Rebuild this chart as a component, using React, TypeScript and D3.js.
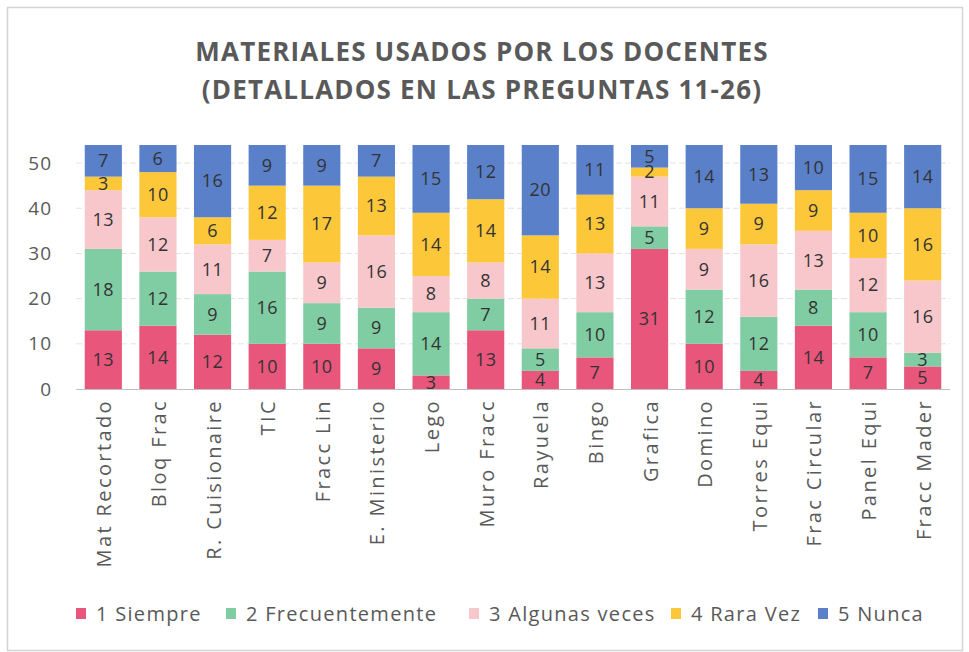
import React from "react";
import * as d3 from "d3";

const categories = [
  "Mat Recortado", "Bloq Frac", "R. Cuisionaire", "TIC", "Fracc Lin", "E. Ministerio",
  "Lego", "Muro Fracc", "Rayuela", "Bingo", "Grafica", "Domino", "Torres Equi",
  "Frac Circular", "Panel Equi", "Fracc Mader",
];
const siempre = [13, 14, 12, 10, 10, 9, 3, 13, 4, 7, 31, 10, 4, 14, 7, 5];
const frecuentemente = [18, 12, 9, 16, 9, 9, 14, 7, 5, 10, 5, 12, 12, 8, 10, 3];
const algunasVeces = [13, 12, 11, 7, 9, 16, 8, 8, 11, 13, 11, 9, 16, 13, 12, 16];
const raraVez = [3, 10, 6, 12, 17, 13, 14, 14, 14, 13, 2, 9, 9, 9, 10, 16];
const nunca = [7, 6, 16, 9, 9, 7, 15, 12, 20, 11, 5, 14, 13, 10, 15, 14];
const seriesNames = ["1 Siempre", "2 Frecuentemente", "3 Algunas veces", "4 Rara Vez", "5 Nunca"];
const seriesColors = ["#E8567B", "#80CDA4", "#F7C7CB", "#FDC73A", "#5A80CA"];
const yTicks = [0, 10, 20, 30, 40, 50];
const titleLines = ["MATERIALES USADOS POR LOS DOCENTES", "(DETALLADOS EN LAS PREGUNTAS 11-26)"];

const W = 969;
const H = 652;
const FONT = "'Open Sans', 'Liberation Sans', sans-serif";

export default function App() {
  const series = [siempre, frecuentemente, algunasVeces, raraVez, nunca];
  const rows = categories.map((c, i) => {
    const r: any = { cat: c };
    seriesNames.forEach((s, k) => (r[s] = series[k][i]));
    return r;
  });
  const stacked = d3.stack<any>().keys(seriesNames)(rows);

  const x = d3.scaleBand().domain(categories).range([76, 950]).paddingInner(0.32).paddingOuter(0.16);
  const y = d3.scaleLinear().domain([0, 54]).range([389, 145]);

  const legendX = [76, 226, 469, 671, 818];

  return (
    <svg width={W} height={H} style={{ position: "absolute", left: 0, top: 0, background: "#fff" }}>
      <rect x={7.5} y={7.5} width={955} height={643} fill="#fff" stroke="#d4d4d4" strokeWidth={1.5} />
      {titleLines.map((t, i) => (
        <text key={i} x={482} y={61 + i * 38} textAnchor="middle" fontFamily={FONT} fontWeight="bold"
          fontSize={26} fill="#595959" letterSpacing={1.2}>{t}</text>
      ))}
      {yTicks.map((t) => (
        <g key={t}>
          {t > 0 && <line x1={76} x2={950} y1={y(t)} y2={y(t)} stroke="#e3e3e3" strokeWidth={1} strokeDasharray="6 3" />}
          <text x={52} y={y(t)} dy="0.35em" textAnchor="end" fontFamily={FONT} fontSize={19} letterSpacing={1} fill="#595959">{t}</text>
        </g>
      ))}
      {stacked.map((layer, k) => (
        <g key={k}>
          {layer.map((d, i) => (
            <rect key={i} x={x(categories[i])} y={y(d[1])} width={x.bandwidth()} height={y(d[0]) - y(d[1])}
              fill={seriesColors[k]} />
          ))}
        </g>
      ))}
      <line x1={76} x2={950} y1={389.5} y2={389.5} stroke="#bfbfbf" strokeWidth={1} />
      {stacked.map((layer, k) => (
        <g key={"l" + k}>
          {layer.map((d, i) => (
            <text key={i} x={(x(categories[i]) as number) + x.bandwidth() / 2} y={(y(d[0]) + y(d[1])) / 2}
              dy="0.35em" textAnchor="middle" fontFamily={FONT} fontSize={18} letterSpacing={0.5} fill="#333">
              {d[1] - d[0]}
            </text>
          ))}
        </g>
      ))}
      {categories.map((c) => (
        <text key={c} transform={`translate(${(x(c) as number) + x.bandwidth() / 2 + 1},399) rotate(-90)`}
          dy="0.35em" textAnchor="end" fontFamily={FONT} fontSize={20} letterSpacing={2.4} fill="#595959">{c}</text>
      ))}
      {seriesNames.map((s, k) => (
        <g key={s}>
          <rect x={legendX[k]} y={608} width={10} height={11} fill={seriesColors[k]} />
          <text x={legendX[k] + 20} y={614} dy="0.35em" fontFamily={FONT} fontSize={20} letterSpacing={1.3} fill="#595959">{s}</text>
        </g>
      ))}
    </svg>
  );
}
